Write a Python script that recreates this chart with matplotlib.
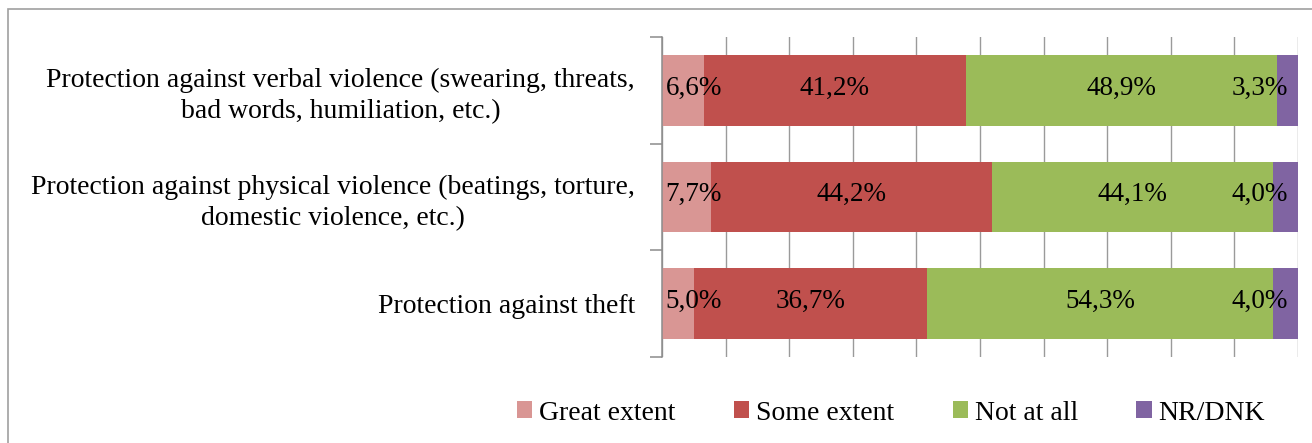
import matplotlib
matplotlib.use("Agg")
import matplotlib.pyplot as plt
from matplotlib.patches import Rectangle, Patch

plt.rcParams['font.family'] = 'Liberation Serif'

categories = ["Protection against theft",
              "Protection against physical violence (beatings, torture,\ndomestic violence, etc.)",
              "Protection against verbal violence (swearing, threats,\nbad words, humiliation, etc.)"]
series = ["Great extent", "Some extent", "Not at all", "NR/DNK"]
great = [5.0, 7.7, 6.6]
some = [36.7, 44.2, 41.2]
not_at_all = [54.3, 44.1, 48.9]
nr_dnk = [4.0, 4.0, 3.3]
colors = ['#D99694', '#C0504D', '#9BBB59', '#8064A2']

fig = plt.figure(figsize=(13.12, 4.43), dpi=100, facecolor='white')
# chart border (extends past the right/bottom of the image)
fig.patches.append(Rectangle((8/1312, -0.1), 1.2, 1 - 9/443 + 0.1, transform=fig.transFigure,
                             fill=False, edgecolor='#A0A0A0', lw=1.2))

ax = fig.add_axes([662/1312, 1 - 357/443, (1298 - 662)/1312, 320/443])
ypos = list(range(len(categories)))
left = [0.0] * len(categories)
for name, vals, col in zip(series, [great, some, not_at_all, nr_dnk], colors):
    ax.barh(ypos, vals, left=left, height=0.66, color=col, label=name, zorder=2)
    for i, v in enumerate(vals):
        c = left[i] + v / 2
        c = min(max(c, 5.0), 94.0)
        ax.text(c, ypos[i] + 0.02, f"{v:.1f}%".replace('.', ','), ha='center', va='center',
                fontsize=19.5, color='black', zorder=3)
        left[i] += v

ax.set_xlim(0, 100)
ax.set_ylim(-0.5, 2.5)
ax.set_xticks(range(0, 101, 10))
ax.tick_params(axis='x', length=0, labelbottom=False)
ax.grid(axis='x', color='#9A9A9A', lw=1.0, zorder=0)
ax.set_yticks([-0.5, 0.5, 1.5, 2.5])
ax.set_yticklabels([])
ax.set_yticks(ypos, minor=True)
ax.set_yticklabels(categories, minor=True, fontsize=20, ha='right', multialignment='center',
                   linespacing=1.32)
ax.tick_params(axis='y', which='minor', length=0, pad=19.5)
ax.tick_params(axis='y', which='major', length=9, color='#8C8C8C', width=1.1)
for s in ['top', 'right', 'bottom']:
    ax.spines[s].set_visible(False)
ax.spines['left'].set_color('#8C8C8C')
ax.spines['left'].set_linewidth(1.1)

handles = [Patch(facecolor=c, edgecolor='none') for c in colors]
fig.legend(handles, series, loc='center left', bbox_to_anchor=(492/1312, 1 - 413/443), ncol=4,
           frameon=False, fontsize=20, handlelength=0.55, handleheight=0.55,
           handletextpad=0.25, columnspacing=2.1)

fig.savefig("out.png", dpi=100)
